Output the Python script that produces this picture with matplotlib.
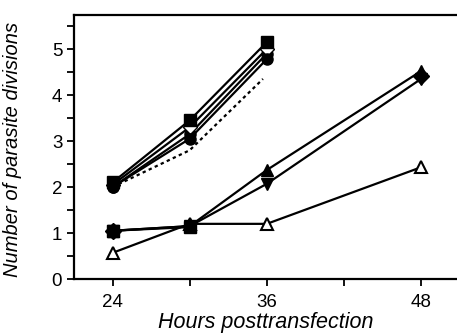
import numpy as np
import matplotlib
matplotlib.use("Agg")
import matplotlib.pyplot as plt

plt.rcParams['font.family'] = ['Liberation Sans', 'DejaVu Sans']

hours_early = [24, 30, 36]
hours_all = [24, 30, 36, 48]

# upper group (stop at 36 h)
sq_filled = [2.1, 3.45, 5.15]
diamond_open = [2.05, 3.3, 5.0]
circ_mid = [2.0, 3.15, 4.9]
circ_filled = [2.0, 3.05, 4.78]
dashed = [2.0, 2.8, 4.35]

# lower group
tri_up = [1.05, 1.15, 2.37, 4.52]
tri_down = [1.05, 1.15, 2.07, 4.35]
tri_open = [0.57, 1.2, 1.2, 2.43]
sq_low = [1.05, 1.13]
diamond_48 = [4.42]

xticks = [24, 30, 36, 42, 48]
xticklabels = ['24', '', '36', '', '48']
yticks = [0, 1, 2, 3, 4, 5]

fig = plt.figure(figsize=(4.57, 3.33), dpi=100)
ax = fig.add_axes([0.162, 0.162, 0.838, 0.793])

lw = 1.6
ms = 8
k = 'black'
ax.plot(hours_early[:2] + [35.7], dashed, color=k, lw=lw, ls=(0, (1.5, 1.5)))
ax.plot(hours_early, circ_mid, color=k, lw=lw, marker='o', ms=ms, mfc=k)
ax.plot(hours_early, diamond_open, color=k, lw=lw, marker='D', ms=ms-1, mfc='white', mec=k)
ax.plot(hours_early, circ_filled, color=k, lw=lw, marker='o', ms=ms, mfc=k)
ax.plot(hours_early, sq_filled, color=k, lw=lw, marker='s', ms=ms, mfc=k)

ax.plot(hours_all, tri_open, color=k, lw=lw, marker='^', ms=ms, mfc='white', mec=k, mew=1.5)
ax.plot(hours_all, tri_down, color=k, lw=lw, marker='v', ms=ms, mfc=k)
ax.plot(hours_all, tri_up, color=k, lw=lw, marker='^', ms=ms, mfc=k)
ax.plot(hours_all[:2], sq_low, color=k, lw=lw, marker='s', ms=ms, mfc=k)
ax.plot([48], diamond_48, ls='none', marker='D', ms=ms, mfc=k, mec=k)
ax.plot([24], [1.05], ls='none', marker='D', ms=ms, mfc=k, mec=k)

ax.set_xlim(21, 50.8)
ax.set_ylim(0, 5.74)
ax.set_xticks(xticks)
ax.set_xticklabels(xticklabels)
ax.set_yticks(yticks)
ax.set_yticks(np.arange(0.5, 5.6, 1.0), minor=True)
ax.tick_params(axis='both', which='both', direction='out', width=1.3, labelsize=13.5, color=k)
ax.tick_params(axis='both', which='major', length=5)
ax.tick_params(axis='y', which='minor', length=5)
ax.tick_params(axis='x', pad=6)
ax.spines['right'].set_visible(False)
for s in ['left', 'bottom', 'top']:
    ax.spines[s].set_linewidth(1.6)

ax.set_xlabel('Hours posttransfection', fontsize=15.5, style='italic', va='center')
ax.set_ylabel('Number of parasite divisions', fontsize=14.5, style='italic', va='center')
ax.xaxis.set_label_coords(0.5, -0.165)
ax.yaxis.set_label_coords(-0.16, 0.49)

fig.savefig('out.png', dpi=100)
